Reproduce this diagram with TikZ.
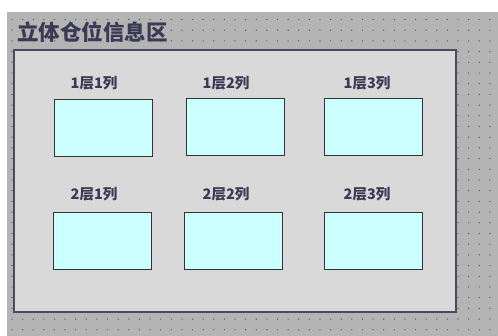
\documentclass[tikz,border=0pt]{standalone}
\usepackage{fontspec}
\newfontfamily\cjk{Noto Sans CJK SC}
\definecolor{bgdot}{HTML}{B4B4B4}
\definecolor{panel}{HTML}{D9D9D9}
\definecolor{frame}{HTML}{4A4A60}
\definecolor{ink}{HTML}{3A3A55}
\definecolor{cell}{HTML}{CCFFFF}
\begin{document}
\begin{tikzpicture}[x=1pt,y=-1pt,
  cellbox/.style={draw=black!80,line width=1.3pt,fill=cell,minimum width=98pt,minimum height=57pt,inner sep=0pt,anchor=north west},
  celllabel/.style={font=\cjk\bfseries\fontsize{14.5}{16}\selectfont,text=ink,inner sep=0pt}]
\useasboundingbox (0,0) rectangle (498,336);
\fill[white] (0,0) rectangle (498,336);
\fill[bgdot] (7,12) rectangle (498,336);
\foreach \i in {0,...,46}{
  \foreach \j in {0,...,29}{
    \fill[black!65] ({12+\i*10.62},{19.5+\j*10.7}) circle (0.7pt);
  }
}
\node[draw=frame,line width=1.6pt,fill=panel,anchor=north west,minimum width=442pt,minimum height=262pt,inner sep=0pt] (panelbox) at (13,49) {};
\node[font=\cjk\bfseries\fontsize{21.5}{23}\selectfont,text=ink,anchor=west,inner sep=0pt] (title) at (17,32) {立体仓位信息区};
\node[cellbox] (c11) at (54,99) {};
\node[cellbox] (c12) at (186,98) {};
\node[cellbox] (c13) at (324,98) {};
\node[cellbox] (c21) at (53,212) {};
\node[cellbox] (c22) at (184,212) {};
\node[cellbox] (c23) at (324,212) {};
\node[celllabel] (l11) at (94,83) {1层1列};
\node[celllabel] (l12) at (226,83) {1层2列};
\node[celllabel] (l13) at (367,83) {1层3列};
\node[celllabel] (l21) at (94,194) {2层1列};
\node[celllabel] (l22) at (226,194) {2层2列};
\node[celllabel] (l23) at (367,194) {2层3列};
\end{tikzpicture}
\end{document}
